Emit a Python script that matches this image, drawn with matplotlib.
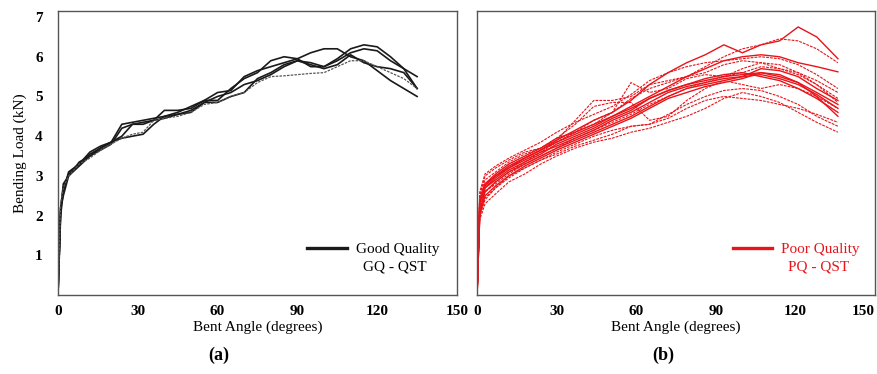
import matplotlib.pyplot as plt
from matplotlib.lines import Line2D

plt.rcParams['font.family'] = ['Liberation Serif', 'DejaVu Serif']

# bent angle grid (degrees)
gq_angle = [0, 1, 2, 4, 8, 12, 16, 20, 24, 28, 32, 36, 40, 45, 50, 55, 60, 65, 70,
            75, 80, 85, 90, 95, 100, 105, 110, 115, 120, 125, 130, 135]

# good quality specimens, bending load (kN)
gq_1 = [0, 2.2, 2.7, 3.05, 3.3, 3.55, 3.7, 3.85, 4.0, 4.3, 4.35, 4.4, 4.45, 4.55, 4.65, 4.85,
        5.0, 5.1, 5.3, 5.4, 5.55, 5.75, 5.9, 5.85, 5.75, 5.95, 6.2, 6.3, 6.25, 6.0, 5.7, 5.2]
gq_2 = [0, 2.0, 2.6, 3.1, 3.3, 3.6, 3.75, 3.85, 4.3, 4.35, 4.4, 4.45, 4.5, 4.6, 4.75, 4.9,
        4.9, 5.2, 5.45, 5.6, 5.9, 6.0, 5.95, 5.75, 5.75, 5.9, 6.1, 6.2, 6.15, 5.9, 5.7, 5.5]
gq_3 = [0, 2.1, 2.8, 3.0, 3.25, 3.5, 3.65, 3.8, 4.2, 4.3, 4.3, 4.4, 4.65, 4.65, 4.7, 4.9,
        5.1, 5.15, 5.5, 5.65, 5.75, 5.85, 5.95, 6.1, 6.2, 6.2, 6.0, 5.9, 5.65, 5.4, 5.2, 5.0]
gq_4 = [0, 2.3, 2.7, 3.0, 3.3, 3.45, 3.65, 3.8, 3.95, 4.05, 4.1, 4.4, 4.45, 4.5, 4.6, 4.8,
        4.85, 5.0, 5.1, 5.35, 5.5, 5.52, 5.55, 5.58, 5.6, 5.75, 5.9, 5.9, 5.75, 5.6, 5.45, 5.2]
gq_5 = [0, 2.2, 2.5, 3.0, 3.35, 3.5, 3.7, 3.85, 3.95, 4.0, 4.05, 4.3, 4.5, 4.55, 4.6, 4.85,
        4.85, 5.0, 5.1, 5.45, 5.6, 5.8, 5.9, 5.8, 5.7, 5.8, 6.05, 5.85, 5.75, 5.7, 5.6, 5.2]

pq_angle = [0, 1, 3, 7, 12, 18, 24, 30, 37, 44, 51, 58, 65, 72, 79, 86, 93, 100, 107,
            114, 121, 128, 136]

# poor quality specimens, bending load (kN)
pq_1 = [0, 2.0, 2.7, 2.95, 3.2, 3.45, 3.65, 3.9, 4.15, 4.4, 4.6, 4.9, 5.3, 5.6, 5.85, 6.05,
        6.3, 6.1, 6.3, 6.4, 6.75, 6.5, 5.95]
pq_2 = [0, 2.2, 2.6, 2.85, 3.1, 3.35, 3.6, 3.85, 4.1, 4.3, 4.6, 4.95, 5.2, 5.35, 5.5, 5.75,
        6.0, 6.2, 6.3, 6.45, 6.4, 6.2, 5.85]
pq_3 = [0, 2.4, 2.8, 3.05, 3.3, 3.5, 3.7, 3.95, 4.1, 4.3, 4.5, 4.75, 5.0, 5.25, 5.5, 5.7,
        5.9, 6.0, 6.05, 6.0, 5.85, 5.75, 5.62]
pq_4 = [0, 2.5, 3.0, 3.2, 3.4, 3.6, 3.7, 3.9, 4.4, 4.9, 4.9, 5.0, 5.3, 5.4, 5.5, 5.6,
        5.8, 5.9, 5.85, 5.7, 5.6, 5.4, 5.1]
pq_5 = [0, 2.3, 2.75, 3.0, 3.2, 3.4, 3.6, 3.75, 3.95, 4.15, 4.4, 4.6, 4.85, 5.1, 5.25, 5.35,
        5.45, 5.5, 5.55, 5.45, 5.3, 5.05, 4.7]
pq_6 = [0, 2.1, 2.6, 2.85, 3.1, 3.3, 3.5, 3.7, 3.9, 4.1, 4.3, 4.5, 4.75, 5.0, 5.2, 5.3,
        5.4, 5.5, 5.7, 5.65, 5.5, 5.2, 4.9]
pq_7 = [0, 2.0, 2.5, 2.75, 3.0, 3.25, 3.45, 3.65, 3.85, 4.05, 4.25, 4.45, 4.7, 4.95, 5.1, 5.25,
        5.35, 5.45, 5.6, 5.55, 5.35, 5.0, 4.5]
pq_8 = [0, 1.9, 2.3, 2.55, 2.85, 3.05, 3.3, 3.5, 3.7, 3.85, 3.95, 4.1, 4.2, 4.35, 4.5, 4.7,
        4.95, 5.1, 5.0, 4.85, 4.6, 4.35, 4.1]
pq_9 = [0, 2.0, 2.4, 2.7, 2.95, 3.2, 3.4, 3.6, 3.8, 4.0, 4.15, 4.25, 4.3, 4.55, 4.8, 5.0,
        5.15, 5.2, 5.15, 5.0, 4.8, 4.5, 4.25]
pq_10 = [0, 2.5, 2.9, 3.1, 3.35, 3.55, 3.7, 3.95, 4.3, 4.75, 4.85, 4.85, 4.4, 4.5, 4.9, 5.2,
         5.4, 5.3, 5.2, 5.3, 5.2, 5.0, 4.7]
pq_11 = [0, 2.3, 2.7, 2.9, 3.15, 3.35, 3.55, 3.8, 4.0, 4.2, 4.45, 4.65, 4.95, 5.15, 5.3, 5.45,
         5.55, 5.6, 5.5, 5.4, 5.2, 4.95, 4.6]
pq_12 = [0, 2.2, 2.6, 2.8, 3.05, 3.3, 3.5, 3.7, 3.95, 4.15, 4.35, 4.55, 4.8, 5.0, 5.2, 5.35,
         5.5, 5.7, 5.85, 5.8, 5.6, 5.3, 4.95]
pq_13 = [0, 2.4, 2.75, 3.0, 3.25, 3.45, 3.65, 3.85, 4.1, 4.4, 4.6, 5.35, 5.1, 5.2, 5.45, 5.55,
         5.5, 5.6, 5.75, 5.7, 5.55, 5.3, 4.85]
pq_14 = [0, 2.1, 2.45, 2.7, 3.0, 3.2, 3.4, 3.55, 3.75, 3.9, 4.05, 4.25, 4.3, 4.45, 4.7, 4.9,
         5.0, 4.95, 4.9, 4.8, 4.7, 4.55, 4.35]
pq_15 = [0, 2.4, 2.8, 3.0, 3.25, 3.45, 3.65, 3.85, 4.05, 4.25, 4.5, 4.7, 4.95, 5.15, 5.3, 5.4,
         5.5, 5.55, 5.6, 5.5, 5.35, 5.1, 4.8]
pq_16 = [0, 2.6, 3.05, 3.25, 3.45, 3.65, 3.85, 4.1, 4.35, 4.55, 4.75, 5.05, 5.4, 5.6, 5.75, 5.85,
         5.9, 5.95, 6.0, 5.95, 5.8, 5.55, 5.2]

x_ticks = [0, 30, 60, 90, 120, 150]
y_ticks = [1, 2, 3, 4, 5, 6, 7]

black = '#1a1a1a'
red = '#e8141a'

fig = plt.figure(figsize=(8.77, 3.74), dpi=100)
ax1 = fig.add_axes([0.0661, 0.211, 0.455, 0.7594])
ax2 = fig.add_axes([0.544, 0.211, 0.4538, 0.7594])

# (a) good quality
for y in [gq_1, gq_2, gq_3, gq_5]:
    ax1.plot(gq_angle, y, color=black, lw=1.2)
ax1.plot(gq_angle, gq_4, color='#555555', lw=0.9, ls=(0, (2, 1)))

# (b) poor quality
solid = [pq_1, pq_3, pq_5, pq_6, pq_7, pq_11, pq_15]
dashed = [pq_2, pq_4, pq_8, pq_9, pq_10, pq_12, pq_13, pq_14, pq_16]
for y in solid:
    ax2.plot(pq_angle, y, color=red, lw=1.0)
for y in dashed:
    ax2.plot(pq_angle, y, color=red, lw=0.8, ls=(0, (2.5, 1)))

for ax in [ax1, ax2]:
    ax.set_xlim(0, 150)
    ax.set_ylim(0, 7.15)
    ax.set_xticks(x_ticks)
    ax.set_yticks(y_ticks)
    ax.tick_params(axis='x', length=0, labelsize=11, pad=7)
    ax.tick_params(axis='y', length=0, labelsize=11, pad=11)
    for lab in ax.get_xticklabels() + ax.get_yticklabels():
        lab.set_fontweight('bold')
    ax.set_xlabel('Bent Angle (degrees)', fontsize=11, labelpad=2)
    for s in ax.spines.values():
        s.set_color('#555555')
        s.set_linewidth(1.0)

ax1.set_ylabel('Bending Load (kN)', fontsize=11, labelpad=6)
ax2.tick_params(labelleft=False)
ax2.get_xticklabels()[-1].set_horizontalalignment('right')
ax2.get_xticklabels()[-1].set_x(151)

leg1 = ax1.legend(handles=[Line2D([], [], color=black, lw=2.4)], labels=['Good Quality'],
                  loc='center right', bbox_to_anchor=(0.955, 0.162), frameon=False,
                  borderpad=0, borderaxespad=0,
                  fontsize=11, handlelength=2.6, handletextpad=0.6)
ax1.text(0.845, 0.099, 'GQ - QST', transform=ax1.transAxes, ha='center', va='center', fontsize=11)

leg2 = ax2.legend(handles=[Line2D([], [], color=red, lw=2.4)], labels=['Poor Quality'],
                  loc='center right', bbox_to_anchor=(0.962, 0.162), frameon=False,
                  borderpad=0, borderaxespad=0,
                  fontsize=11, handlelength=2.6, handletextpad=0.6, labelcolor=red)
ax2.text(0.857, 0.099, 'PQ - QST', transform=ax2.transAxes, ha='center', va='center',
         fontsize=11, color=red)

fig.text(0.249, 0.05, '(a)', ha='center', va='center', fontsize=13, fontweight='bold')
fig.text(0.756, 0.05, '(b)', ha='center', va='center', fontsize=13, fontweight='bold')

fig.savefig('out.png', dpi=100)
